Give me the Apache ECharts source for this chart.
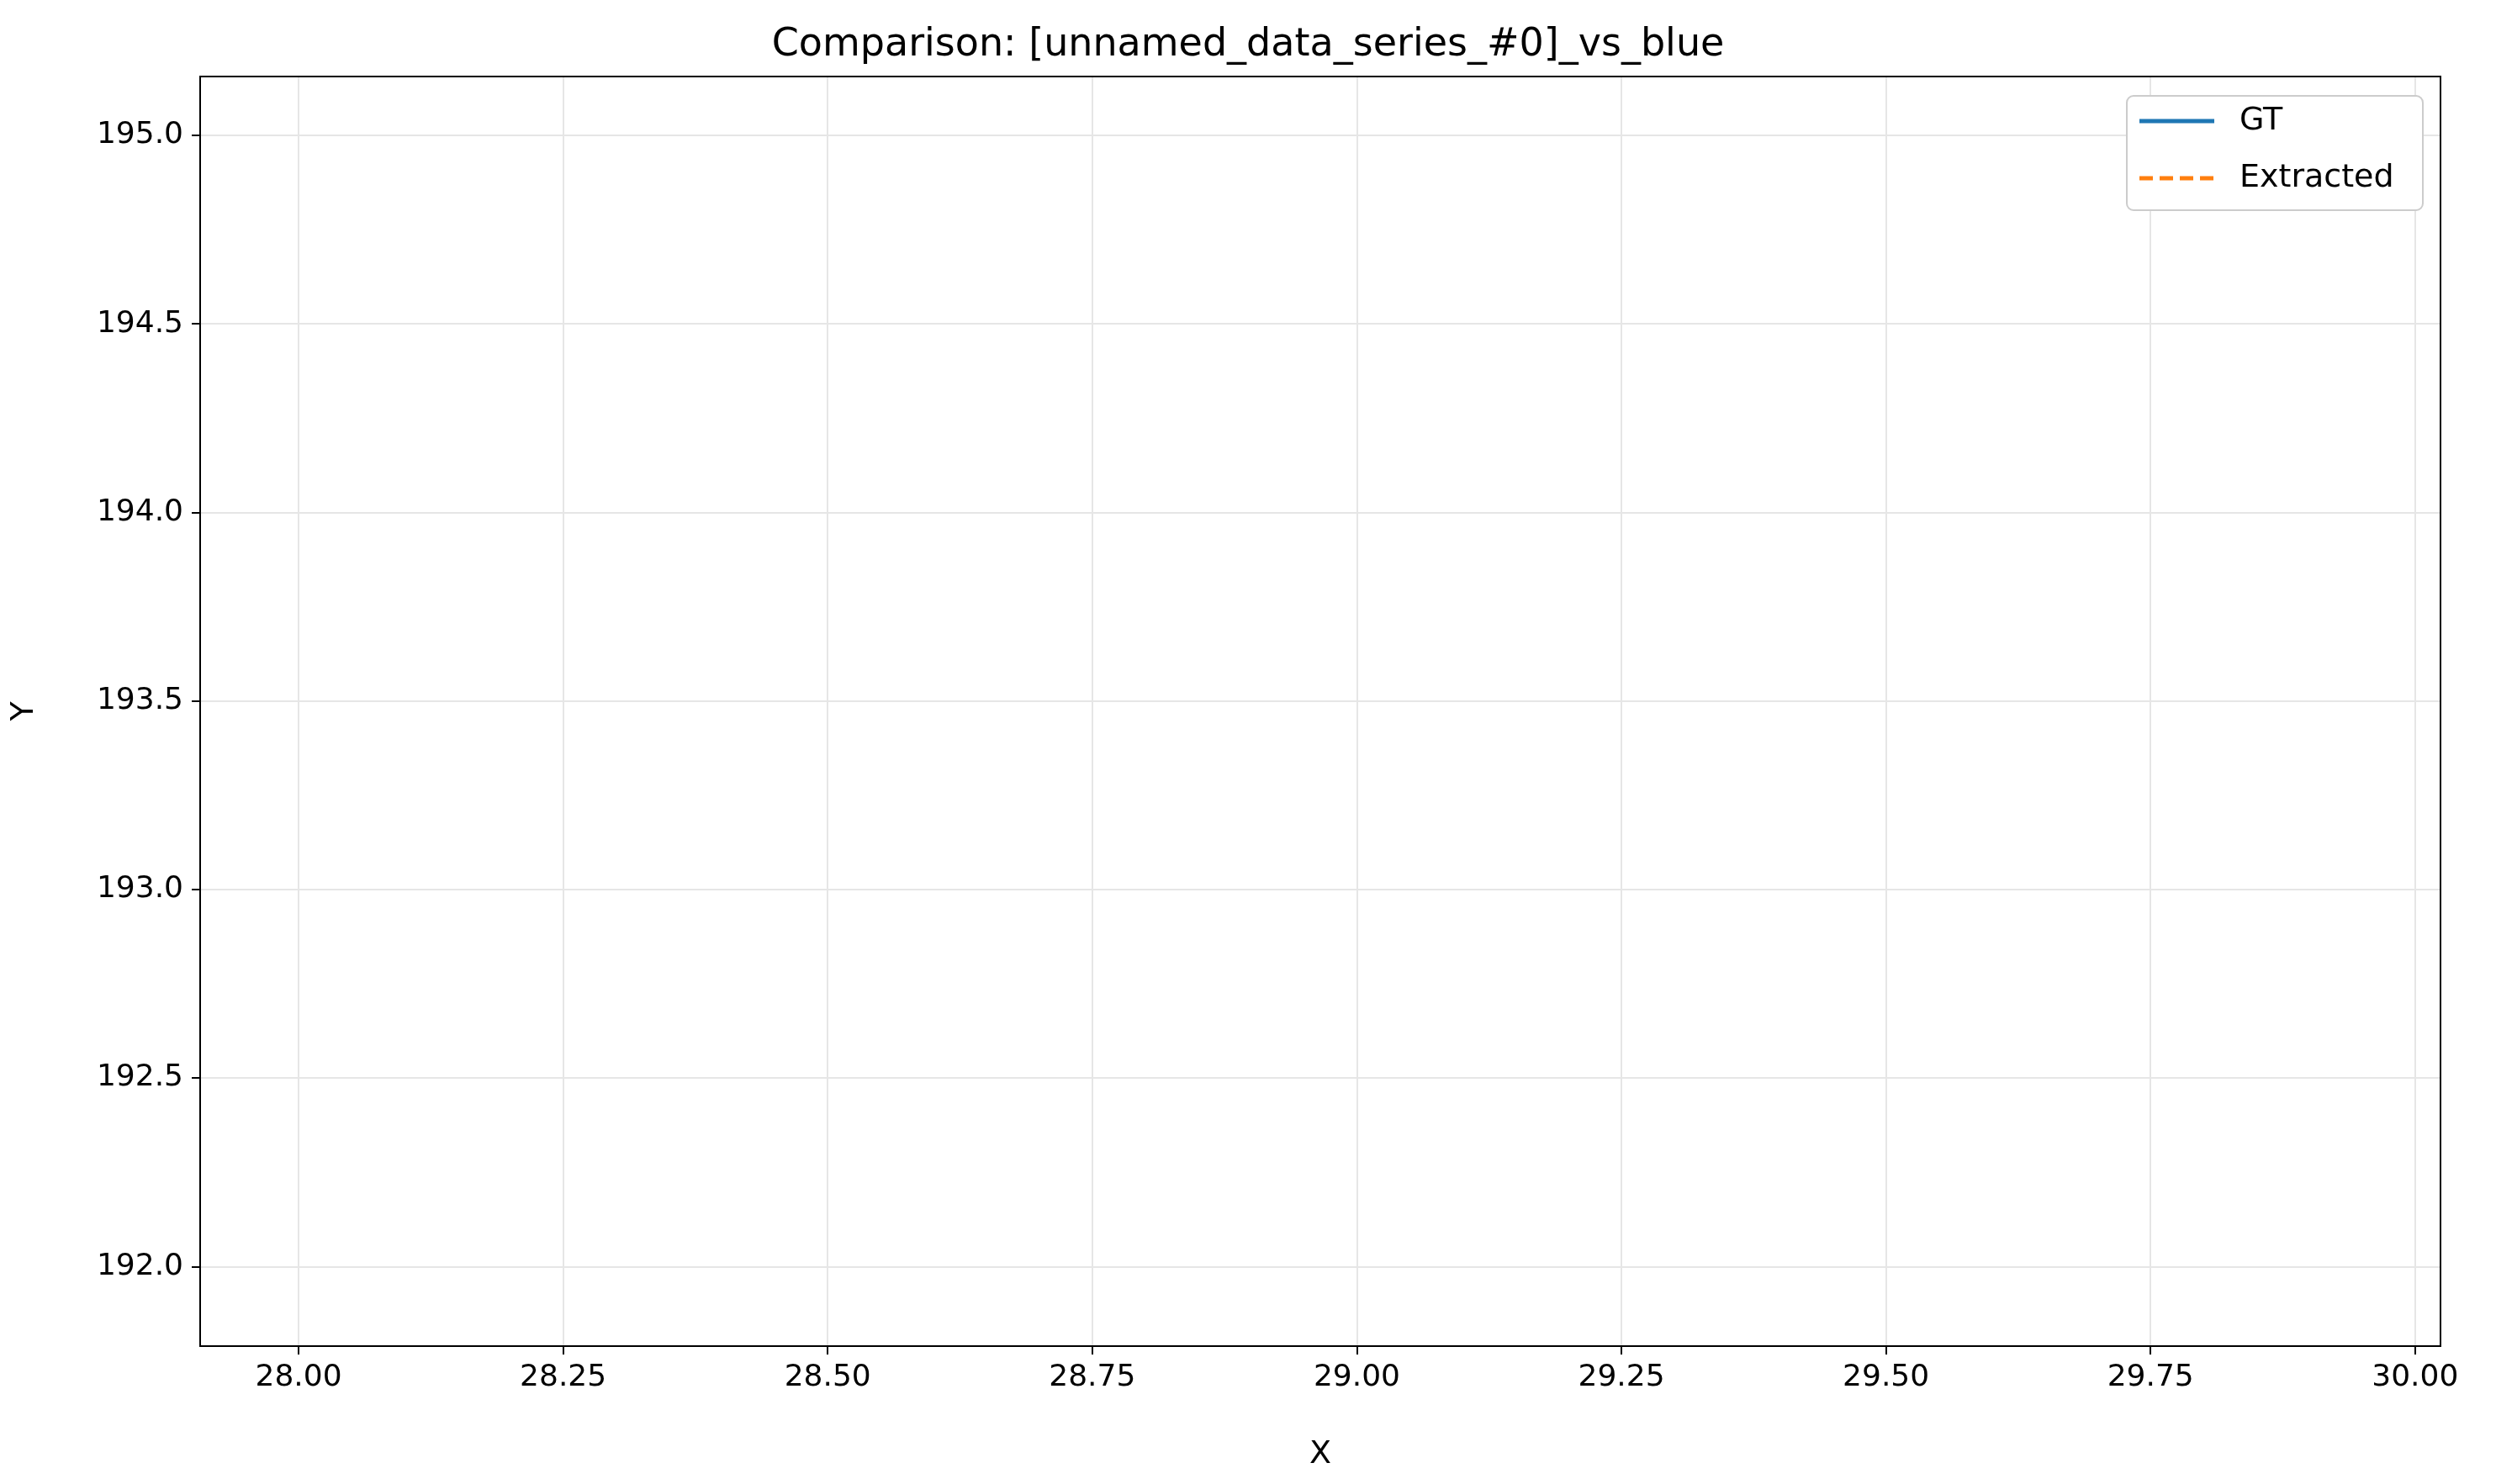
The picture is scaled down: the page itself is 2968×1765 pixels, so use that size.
<!DOCTYPE html>
<html>
<head>
<meta charset="utf-8">
<script src="https://cdn.jsdelivr.net/npm/echarts@6/dist/echarts.min.js"></script>
<style>html,body{margin:0;padding:0;background:#fff}#main{width:2968px;height:1765px}</style>
</head>
<body>
<div id="main"></div>
<script>
var myChart = echarts.init(document.getElementById('main'))

// tick labels
var xTicks = [28.00, 28.25, 28.50, 28.75, 29.00, 29.25, 29.50, 29.75, 30.00]
var yTicks = [192.0, 192.5, 193.0, 193.5, 194.0, 194.5, 195.0]
// series (both empty in the picture)
var seriesNames = ['GT', 'Extracted']
var seriesColors = ['#1f77b4', '#ff7f0e']
var gtData = []
var extractedData = []

var font = 'DejaVu Sans'

// legend drawn by hand so the icons are plain lines like matplotlib
var legendGraphics = [{
    type: 'rect', silent: true, z: 100,
    shape: { x: 2529, y: 114, width: 352, height: 136, r: 8 },
    style: { fill: '#fff', stroke: '#ccc', lineWidth: 2 }
}]
seriesNames.forEach(function (name, i) {
    var y = 144 + i * 68
    legendGraphics.push({
        type: 'line', silent: true, z: 101,
        shape: { x1: 2544, y1: y, x2: 2633, y2: y },
        style: { stroke: seriesColors[i], lineWidth: 5, lineDash: i ? [16, 8] : null }
    }, {
        type: 'text', silent: true, z: 101,
        x: 2663, y: y,
        style: { text: name, fontFamily: font, fontSize: 38, fill: '#000', textVerticalAlign: 'middle' }
    })
})

var options = {
    backgroundColor: '#fff',
    animation: false,
    title: {
        text: 'Comparison: [unnamed_data_series_#0]_vs_blue',
        left: 'center', top: 26,
        textStyle: { fontFamily: font, fontSize: 46, fontWeight: 'normal', color: '#000' }
    },
    legend: { show: false, data: seriesNames },
    grid: { left: 238, right: 66, top: 91, bottom: 164 },
    xAxis: {
        type: 'value', min: 27.907, max: 30.024,
        name: 'X', nameLocation: 'middle', nameGap: 110,
        nameTextStyle: { fontFamily: font, fontSize: 38, color: '#000' },
        axisLine: { onZero: false, lineStyle: { color: '#000', width: 2 } },
        axisTick: { length: 10, lineStyle: { color: '#000', width: 2 }, customValues: xTicks },
        axisLabel: { fontFamily: font, fontSize: 36, color: '#000', margin: 20, customValues: xTicks,
            formatter: function (v) { return v.toFixed(2) } },
        splitLine: { show: true, lineStyle: { color: '#e6e6e6', width: 2 } }
    },
    yAxis: {
        type: 'value', min: 191.789, max: 195.156,
        name: 'Y', nameLocation: 'middle', nameGap: 190,
        nameTextStyle: { fontFamily: font, fontSize: 38, color: '#000' },
        axisLine: { show: true, onZero: false, lineStyle: { color: '#000', width: 2 } },
        axisTick: { show: true, length: 10, lineStyle: { color: '#000', width: 2 }, customValues: yTicks },
        axisLabel: { fontFamily: font, fontSize: 36, color: '#000', margin: 20, customValues: yTicks,
            formatter: function (v) { return v.toFixed(1) } },
        splitLine: { show: true, lineStyle: { color: '#e6e6e6', width: 2 } }
    },
    graphic: [{
        type: 'rect', silent: true, z: 100,
        shape: { x: 238, y: 91, width: 2968 - 238 - 66, height: 1765 - 91 - 164 },
        style: { fill: 'none', stroke: '#000', lineWidth: 2 }
    }].concat(legendGraphics),
    series: [{
        name: 'GT', type: 'line', symbol: 'none',
        lineStyle: { color: seriesColors[0], width: 5 },
        data: gtData
    }, {
        name: 'Extracted', type: 'line', symbol: 'none',
        lineStyle: { color: seriesColors[1], width: 5, type: [16, 8] },
        data: extractedData
    }]
}

myChart.setOption(options)
</script>
</body>
</html>
